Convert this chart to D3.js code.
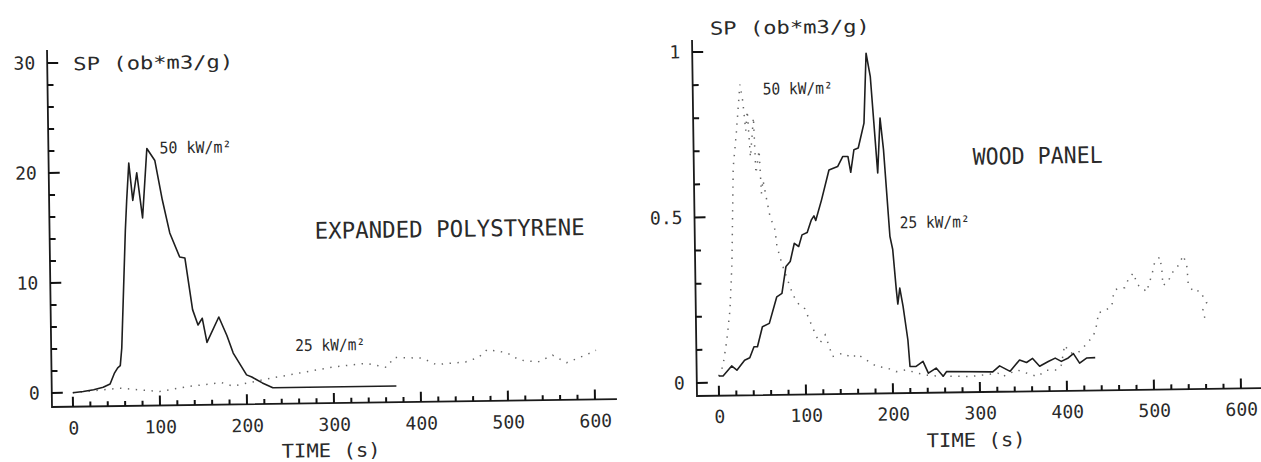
<!DOCTYPE html>
<html>
<head>
<meta charset="utf-8">
<script src="https://cdn.jsdelivr.net/npm/d3@7"></script>
<style>
  body { margin: 0; background: #fff; }
  svg text { font-family: "DejaVu Sans Mono", "Liberation Mono", monospace; fill: #2a2a2a; }
  .solid { fill: none; stroke: #1e1e1e; stroke-width: 1.6; stroke-linejoin: round; }
  .dotted { fill: none; stroke: #666; stroke-width: 1.5; stroke-dasharray: 1.4 6.5; }
  .frame { fill: none; stroke: #1a1a1a; stroke-width: 1.8; }
  .ticks { fill: none; stroke: #111; stroke-width: 2; }
</style>
</head>
<body>
<div id="chart"></div>
<script>

/**************
***** DATA *****
**************/

// time ticks (s), shared by both panels
const timeTicks = [0, 100, 200, 300, 400, 500, 600];

// expanded polystyrene, [time (s), SP (ob*m3/g)]
const eps50 = [[0,0],[12,0.1],[24,0.25],[35,0.45],[43,0.75],[48,1.7],[52,2.2],[55,2.4],[57,4],
  [63,14.7],[65,17.4],[68,20.8],[72,17.4],[77,19.9],[83,15.8],[89,22.1],[98,21.0],[106,17.4],
  [114,14.4],[125,12.2],[131,12.1],[139,7.4],[145,6.0],[150,6.6],[155,4.4],[169,6.7],[178,5.0],
  [185,3.4],[200,1.4],[206,1.2],[218,0.65],[230,0.2],[372,0.2]];
const eps25 = [[0,0],[31,0.2],[54,0.35],[100,0],[131,0.4],[171,0.73],[184,0.4],[207,0.75],
  [230,1.1],[261,1.5],[299,2.0],[338,2.3],[361,1.9],[370,2.8],[402,2.7],[418,2.1],[452,2.3],
  [467,2.7],[477,3.4],[499,3.1],[514,2.4],[535,2.2],[552,2.8],[568,2.1],[591,2.8],[602,3.2]];
const epsTicks = [0, 10, 20, 30];

// wood panel, [time (s), SP (ob*m3/g)]
const wood25 = [[0,0.02],[5,0.02],[15,0.05],[21,0.037],[30,0.067],[36,0.074],[41,0.107],[45,0.107],
  [51,0.167],[59,0.177],[68,0.257],[74,0.267],[79,0.348],[84,0.363],[89,0.418],[94,0.408],
  [98,0.443],[104,0.45],[109,0.488],[112,0.5],[114,0.486],[121,0.548],[130,0.638],[140,0.648],
  [146,0.678],[152,0.678],[155,0.63],[159,0.698],[164,0.703],[171,0.778],[174.5,0.989],[179,0.918],
  [186,0.627],[189.5,0.793],[193,0.697],[199,0.435],[202,0.395],[205.5,0.273],[207,0.23],
  [209.5,0.278],[213,0.223],[218,0.121],[220,0.041],[227,0.041],[235,0.056],[241,0.02],[250,0.035],
  [258,0.01],[262,0.024],[315,0.021],[323,0.039],[335,0.022],[346,0.056],[354,0.048],[361,0.06],
  [369,0.036],[379,0.05],[387,0.06],[394,0.05],[402,0.06],[408,0.073],[415,0.044],[423,0.059],[433,0.06]];
const wood50 = [[0,0.02],[5,0.05],[10,0.13],[14,0.22],[17,0.36],[20,0.65],[24,0.75],[29,0.9],
  [32,0.85],[35,0.76],[37,0.82],[40,0.68],[44,0.8],[46,0.63],[50,0.7],[52,0.57],[54,0.61],[58,0.55],
  [61.5,0.5],[67,0.46],[69,0.41],[74,0.36],[83,0.29],[87,0.26],[94,0.23],[100,0.22],[106,0.18],
  [113,0.135],[117,0.116],[123,0.14],[128,0.1],[131,0.074],[143,0.084],[154,0.069],[159,0.081],
  [166,0.069],[182,0.042],[193,0.038],[204,0.026],[216,0.031],[227,0.021],[243,0.012],[289,0.008],
  [321,0.017],[326,0.006],[343,0.026],[366,0.005],[377,0.024],[389,0.024],[394,0.039],[398,0.099],
  [404,0.075],[413,0.075],[419,0.089],[425,0.108],[431,0.123],[436,0.165],[437,0.195],[443,0.199],
  [453,0.214],[454,0.24],[457,0.264],[463,0.27],[468,0.27],[472,0.293],[478,0.314],[483,0.277],
  [488,0.271],[493,0.256],[500,0.313],[503,0.347],[509,0.361],[511,0.321],[512,0.275],[518,0.285],
  [522,0.311],[528,0.326],[536,0.365],[540,0.329],[541,0.28],[547,0.254],[554,0.258],[562,0.222],
  [557,0.197],[560,0.172]];
const woodTicks = [0, 0.5, 1];

/**********************
***** BASIC SETUP *****
**********************/

const width = 1261;
const height = 462;

const svg = d3.select("#chart")
    .append("svg")
    .attr("width", width)
    .attr("height", height);

// the scanned figure is tilted a little, so each panel is drawn rotated
const tilt = -0.8;

function drawPanel(p) {

    const g = svg.append("g")
        .attr("transform", `rotate(${tilt} ${p.ox} ${p.oy})`);

    const xScale = d3.scaleLinear().domain([0, 600]).range(p.xRange);
    const yScale = d3.scaleLinear().domain(p.yDomain).range(p.yRange);

    /*****************************
    ***** AXES + TICK MARKS *****
    *****************************/

    g.append("path")
        .attr("class", "frame")
        .attr("d", `M${p.ox},${p.yTop}V${p.oy}H${p.xEnd}`);

    // x ticks point up: major every 100 s, minor every 20 s
    const xTickPath = d3.range(0, 601, 20)
        .map(d => `M${xScale(d)},${p.oy}V${p.oy - (d % 100 === 0 ? 10 : 5)}`)
        .join("");

    // y ticks point right: major at labelled values, minor in between
    const nMinor = Math.round(p.yDomain[1] / p.yMinor);
    const yTickPath = d3.range(0, nMinor + 1)
        .map(i => i * p.yMinor)
        .map(d => {
            const major = p.yTicks.some(t => Math.abs(t - d) < 1e-9);
            return `M${p.ox},${yScale(d)}H${p.ox + (major ? 11 : 6)}`;
        })
        .join("");

    g.append("path").attr("class", "ticks").attr("d", xTickPath + yTickPath);

    // tick labels from d3 axes
    g.append("g")
        .attr("transform", `translate(0, ${p.oy})`)
        .call(d3.axisBottom(xScale)
            .tickValues(timeTicks)
            .tickSize(0)
            .tickPadding(p.xPad)
            .tickFormat(d3.format("d")));

    g.append("g")
        .attr("transform", `translate(${p.ox}, 0)`)
        .call(d3.axisLeft(yScale)
            .tickValues(p.yTicks)
            .tickSize(0)
            .tickPadding(12)
            .tickFormat(p.yFormat));

    g.selectAll(".domain").remove();
    g.selectAll(".tick line").remove();
    g.selectAll(".tick text")
        .style("font-size", "18px")
        .attr("fill", "#2a2a2a");

    /*****************
    ***** CURVES *****
    *****************/

    const line = d3.line()
        .x(d => xScale(d[0]))
        .y(d => yScale(d[1]));

    g.selectAll(".curve")
        .data(p.series)
        .enter()
        .append("path")
        .attr("class", d => d.cls)
        .attr("d", d => line(d.values));

    /*****************
    ***** LABELS *****
    *****************/

    g.selectAll(".label")
        .data(p.labels)
        .enter()
        .append("text")
        .attr("class", "label")
        .attr("x", d => d.x)
        .attr("y", d => d.y)
        .attr("textLength", d => d.w)
        .attr("lengthAdjust", "spacingAndGlyphs")
        .style("font-size", d => d.size + "px")
        .text(d => d.text);
}

drawPanel({
    ox: 52, oy: 407, xEnd: 617, yTop: 50,
    xRange: [73, 595], xPad: 15,
    yDomain: [0, 30], yRange: [393, 63], yTicks: epsTicks, yMinor: 2,
    yFormat: d3.format("d"),
    series: [
        {cls: "dotted", values: eps25},
        {cls: "solid", values: eps50}
    ],
    labels: [
        {text: "SP  (ob*m3/g)", x: 78, y: 70.5, w: 160, size: 18},
        {text: "50 kW/m²", x: 163, y: 155, w: 72, size: 16},
        {text: "EXPANDED POLYSTYRENE", x: 317, y: 242.5, w: 270, size: 23},
        {text: "25 kW/m²", x: 296, y: 354.5, w: 70, size: 16},
        {text: "TIME  (s)", x: 281, y: 461, w: 99, size: 19}
    ]
});

drawPanel({
    ox: 697, oy: 396, xEnd: 1262, yTop: 40,
    xRange: [719, 1241], xPad: 14.5,
    yDomain: [0, 1], yRange: [383, 52], yTicks: woodTicks, yMinor: 0.1,
    yFormat: d => d === 0.5 ? "0.5" : d3.format("d")(d),
    series: [
        {cls: "dotted", values: wood50},
        {cls: "solid", values: wood25}
    ],
    labels: [
        {text: "SP  (ob*m3/g)", x: 715, y: 35, w: 160, size: 18},
        {text: "50 kW/m²", x: 767, y: 95.5, w: 70, size: 16},
        {text: "WOOD PANEL", x: 976, y: 168.5, w: 130, size: 23},
        {text: "25 kW/m²", x: 902, y: 231, w: 70, size: 16},
        {text: "TIME  (s)", x: 926, y: 450.5, w: 99, size: 19}
    ]
});

</script>
</body>
</html>
